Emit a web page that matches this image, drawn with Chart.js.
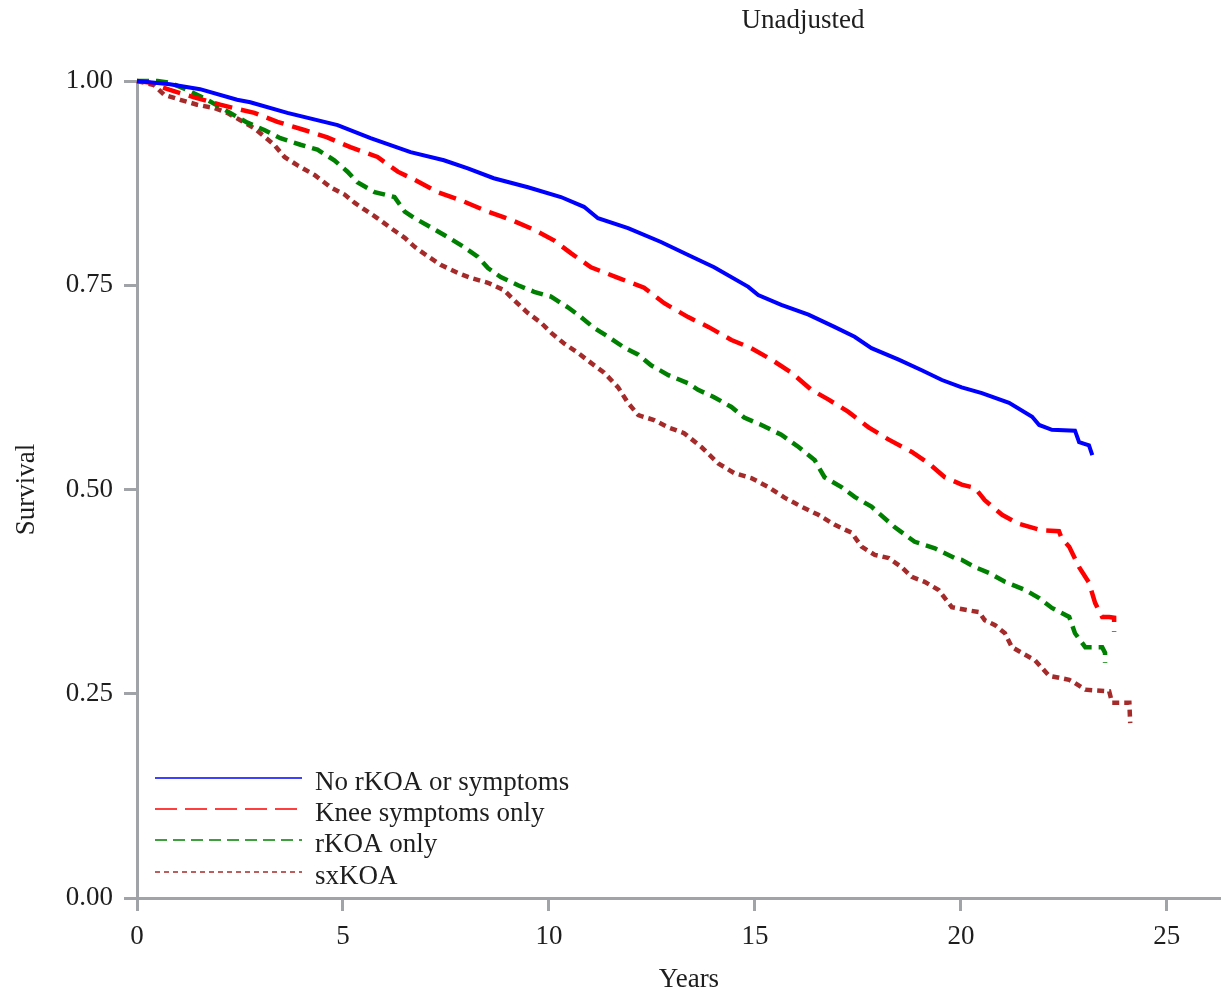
<!DOCTYPE html>
<html>
<head>
<meta charset="utf-8">
<script src="https://cdn.jsdelivr.net/npm/chart.js@4.4.1/dist/chart.umd.min.js"></script>
<style>
  html, body { margin: 0; padding: 0; background: #ffffff; overflow: hidden; }
  #wrap { width: 1241px; height: 997px; position: relative; }
</style>
</head>
<body>
<div id="wrap"><canvas id="c" width="1241" height="997"></canvas></div>
<script>
// ---- Data ----
const chartTitle = "Unadjusted";
const xTitle = "Years";
const yTitle = "Survival";
const seriesLabels = ["No rKOA or symptoms", "Knee symptoms only", "rKOA only", "sxKOA"];
const yTickValues = [0, 0.25, 0.5, 0.75, 1.0];
const xTickValues = [0, 5, 10, 15, 20, 25];

const noneYears = [0, 0.8, 1.53, 2.43, 2.75, 3.65, 4.87, 5.67, 6.64, 7.45, 8.03, 8.66, 9.49, 10.29, 10.85, 11.19, 11.92, 12.72, 13.38, 14.01, 14.84, 15.08, 15.64, 16.30, 16.93, 17.42, 17.83, 18.49, 19.05, 19.54, 20.02, 20.51, 21.17, 21.73, 21.90, 22.21, 22.77, 22.87, 23.11, 23.19];
const noneSurv  = [1, 0.996, 0.990, 0.977, 0.974, 0.961, 0.946, 0.930, 0.913, 0.903, 0.893, 0.881, 0.870, 0.858, 0.846, 0.832, 0.820, 0.803, 0.787, 0.772, 0.748, 0.738, 0.726, 0.714, 0.699, 0.687, 0.673, 0.659, 0.646, 0.634, 0.625, 0.618, 0.606, 0.589, 0.579, 0.573, 0.572, 0.558, 0.554, 0.542];

const symYears = [0, 0.3, 0.80, 1.39, 2.02, 2.26, 2.85, 3.41, 4.06, 4.62, 5.18, 5.84, 6.33, 6.74, 7.30, 7.86, 8.52, 9.08, 9.64, 10.12, 10.54, 11.02, 11.68, 12.31, 12.80, 13.38, 13.87, 14.43, 14.91, 15.40, 15.89, 16.37, 16.79, 17.27, 17.76, 18.25, 18.81, 19.22, 19.61, 20.02, 20.34, 20.58, 21.0, 21.41, 21.97, 22.38, 22.45, 22.63, 22.87, 23.11, 23.26, 23.43, 23.60, 23.72, 23.72];
const symSurv  = [1, 0.998, 0.989, 0.980, 0.971, 0.968, 0.961, 0.950, 0.940, 0.931, 0.919, 0.907, 0.889, 0.879, 0.864, 0.854, 0.840, 0.830, 0.818, 0.805, 0.789, 0.772, 0.759, 0.747, 0.728, 0.711, 0.699, 0.683, 0.673, 0.659, 0.643, 0.622, 0.610, 0.595, 0.576, 0.561, 0.546, 0.532, 0.515, 0.506, 0.502, 0.487, 0.469, 0.458, 0.450, 0.449, 0.440, 0.430, 0.405, 0.386, 0.361, 0.344, 0.344, 0.343, 0.326];

const rkoaYears = [0, 0.5, 0.80, 1.22, 1.63, 2.02, 2.43, 2.68, 3.09, 3.48, 3.97, 4.38, 4.79, 5.11, 5.35, 5.77, 6.25, 6.50, 6.74, 7.13, 7.54, 7.93, 8.27, 8.52, 8.83, 9.25, 9.64, 10.05, 10.46, 10.78, 11.09, 11.44, 11.82, 12.17, 12.48, 12.90, 13.38, 13.62, 14.01, 14.43, 14.74, 15.16, 15.64, 16.06, 16.45, 16.69, 17.10, 17.42, 17.83, 18.39, 18.88, 19.37, 19.85, 20.02, 20.34, 20.68, 21.07, 21.56, 21.90, 22.21, 22.63, 22.77, 23.02, 23.43, 23.50, 23.50];
const rkoaSurv  = [1, 1, 0.998, 0.989, 0.979, 0.968, 0.956, 0.949, 0.940, 0.930, 0.922, 0.916, 0.903, 0.889, 0.876, 0.864, 0.858, 0.840, 0.832, 0.821, 0.809, 0.797, 0.785, 0.771, 0.760, 0.750, 0.742, 0.736, 0.723, 0.711, 0.698, 0.687, 0.674, 0.665, 0.652, 0.640, 0.630, 0.622, 0.613, 0.601, 0.588, 0.579, 0.567, 0.552, 0.536, 0.515, 0.503, 0.491, 0.479, 0.454, 0.436, 0.428, 0.416, 0.414, 0.405, 0.398, 0.387, 0.377, 0.367, 0.355, 0.344, 0.324, 0.307, 0.307, 0.300, 0.288];

const sxYears = [0, 0.41, 0.66, 1.05, 1.46, 1.87, 2.19, 2.51, 2.85, 3.09, 3.33, 3.58, 3.89, 4.31, 4.70, 5.04, 5.28, 5.60, 5.84, 6.16, 6.50, 6.74, 6.96, 7.37, 7.79, 8.10, 8.52, 8.91, 9.15, 9.49, 9.81, 10.05, 10.36, 10.71, 11.02, 11.34, 11.68, 11.92, 12.17, 12.55, 12.90, 13.28, 13.70, 14.11, 14.50, 14.91, 15.33, 15.72, 16.13, 16.54, 16.93, 17.35, 17.59, 17.91, 18.25, 18.56, 18.81, 19.12, 19.46, 19.78, 20.19, 20.44, 20.58, 20.83, 21.07, 21.24, 21.48, 21.80, 22.14, 22.63, 22.77, 23.02, 23.60, 23.67, 24.09, 24.11];
const sxSurv  = [1, 0.995, 0.983, 0.977, 0.971, 0.967, 0.961, 0.952, 0.942, 0.932, 0.922, 0.907, 0.897, 0.885, 0.870, 0.861, 0.851, 0.840, 0.832, 0.820, 0.808, 0.797, 0.789, 0.775, 0.765, 0.759, 0.753, 0.744, 0.732, 0.716, 0.704, 0.692, 0.679, 0.667, 0.655, 0.643, 0.625, 0.606, 0.591, 0.585, 0.576, 0.569, 0.552, 0.532, 0.520, 0.514, 0.503, 0.490, 0.479, 0.469, 0.457, 0.447, 0.430, 0.420, 0.416, 0.405, 0.393, 0.387, 0.377, 0.356, 0.352, 0.350, 0.340, 0.334, 0.324, 0.307, 0.300, 0.291, 0.272, 0.267, 0.263, 0.255, 0.253, 0.239, 0.239, 0.214];

// ---- Styles ----
const FONT = "'Liberation Serif', 'Times New Roman', serif";
const FSIZE = 27;
const TEXT = '#1e1e1e';
const AXIS = '#a0a4a8';
const styles = [
  { color: '#0000ff', dash: [], width: 4, legendDash: [] },
  { color: '#ff0000', dash: [18, 9], width: 4.5, legendDash: [22, 8] },
  { color: '#008000', dash: [12, 7], width: 4.5, legendDash: [12, 6] },
  { color: '#a52a2a', dash: [7, 5], width: 4.5, legendDash: [5, 4] }
];

const toPts = (xs, ys) => xs.map((x, i) => ({ x: x, y: ys[i] }));
const seriesData = [toPts(noneYears, noneSurv), toPts(symYears, symSurv), toPts(rkoaYears, rkoaSurv), toPts(sxYears, sxSurv)];

const datasets = seriesData.map((d, i) => ({
  label: seriesLabels[i],
  data: d,
  borderColor: styles[i].color,
  backgroundColor: styles[i].color,
  borderWidth: styles[i].width,
  borderDash: styles[i].dash,
  borderCapStyle: 'butt',
  borderJoinStyle: 'miter',
  pointRadius: 0,
  tension: 0,
  fill: false,
  clip: false
}));

const titlePlugin = {
  id: 'customTitle',
  afterDraw(chart) {
    const ctx = chart.ctx;
    ctx.save();
    ctx.font = FSIZE + 'px ' + FONT;
    ctx.fillStyle = TEXT;
    ctx.textAlign = 'center';
    ctx.textBaseline = 'alphabetic';
    ctx.fillText(chartTitle, 803, 28);
    ctx.restore();
  }
};

const legendPlugin = {
  id: 'insideLegend',
  afterDatasetsDraw(chart) {
    const ctx = chart.ctx;
    const rows = [778, 809, 840, 872];
    ctx.save();
    chart.data.datasets.forEach((ds, i) => {
      const y = rows[i];
      ctx.beginPath();
      ctx.setLineDash(styles[i].legendDash);
      ctx.lineWidth = 1.5;
      ctx.strokeStyle = styles[i].color;
      ctx.moveTo(155, y);
      ctx.lineTo(302, y);
      ctx.stroke();
      ctx.setLineDash([]);
      ctx.font = FSIZE + 'px ' + FONT;
      ctx.fillStyle = TEXT;
      ctx.textAlign = 'left';
      ctx.textBaseline = 'alphabetic';
      ctx.fillText(ds.label, 315, y + 12);
    });
    ctx.restore();
  }
};

new Chart(document.getElementById('c'), {
  type: 'line',
  data: { datasets: datasets },
  options: {
    responsive: false,
    animation: false,
    devicePixelRatio: 1,
    layout: { padding: { top: 81, right: 0, bottom: 0, left: 0 } },
    plugins: {
      legend: { display: false },
      title: { display: false },
      tooltip: { enabled: false }
    },
    scales: {
      x: {
        type: 'linear',
        min: 0,
        max: 26.8,
        afterFit(scale) { scale.height = 99; },
        afterBuildTicks(scale) { scale.ticks = xTickValues.map(v => ({ value: v })); },
        ticks: {
          autoSkip: false,
          maxRotation: 0,
          color: TEXT,
          padding: 10,
          font: { family: FONT, size: FSIZE },
          callback: v => String(v)
        },
        grid: { display: true, drawOnChartArea: false, drawTicks: true, tickLength: 13, color: AXIS, lineWidth: 3 },
        border: { display: true, color: AXIS, width: 3 },
        title: { display: true, text: xTitle, color: TEXT, font: { family: FONT, size: FSIZE }, padding: { top: 0, bottom: 1 } }
      },
      y: {
        type: 'linear',
        min: 0,
        max: 1,
        afterFit(scale) { scale.width = 137; },
        afterBuildTicks(scale) { scale.ticks = yTickValues.map(v => ({ value: v })); },
        ticks: {
          color: TEXT,
          padding: 11,
          font: { family: FONT, size: FSIZE },
          callback: v => Number(v).toFixed(2)
        },
        grid: { display: true, drawOnChartArea: false, drawTicks: true, tickLength: 13, color: AXIS, lineWidth: 3 },
        border: { display: true, color: AXIS, width: 3 },
        title: { display: true, text: yTitle, color: TEXT, font: { family: FONT, size: FSIZE }, padding: { top: 11, bottom: 0 } }
      }
    }
  },
  plugins: [titlePlugin, legendPlugin]
});
</script>
</body>
</html>
